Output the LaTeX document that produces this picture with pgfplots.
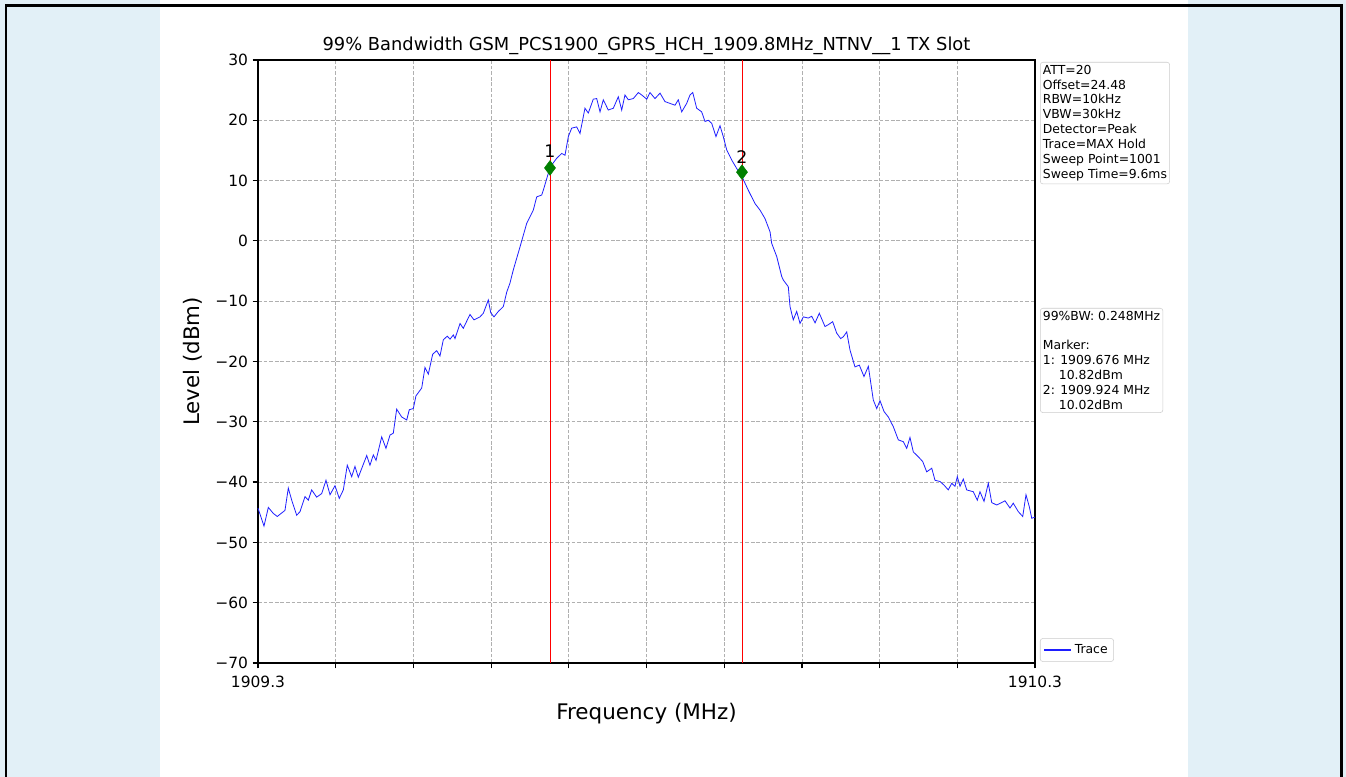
\documentclass[border=0pt]{standalone}
\usepackage{pgfplots}
\pgfplotsset{compat=1.18}
\usepackage{fontspec}
\setmainfont{DejaVu Sans}
\definecolor{bgblue}{RGB}{226,240,247}
\definecolor{boxgray}{RGB}{204,204,204}
\definecolor{mkgreen}{RGB}{0,128,0}
\definecolor{gridgray}{RGB}{176,176,176}
\definecolor{traceblue}{RGB}{30,30,255}
\begin{document}
\begin{tikzpicture}
\path[use as bounding box] (0,0) rectangle (1009.5pt,582.75pt);
\fill[white] (0,0) rectangle (1009.5pt,582.75pt);
\fill[bgblue] (0,0) rectangle (120pt,582.75pt);
\fill[bgblue] (891pt,0) rectangle (1009.5pt,582.75pt);
\draw[black, line width=1.6pt] (4.5pt,0) -- (4.5pt,578.6pt) -- (1006.1pt,578.6pt) -- (1006.1pt,0);
\begin{axis}[
  at={(193.5pt,85.5pt)}, anchor=south west,
  scale only axis, width=582.75pt, height=452.25pt,
  xmin=0, xmax=1, ymin=-70, ymax=30,
  xtick={0,0.1,0.2,0.3,0.4,0.5,0.6,0.7,0.8,0.9,1},
  xticklabels={1909.3,,,,,,,,,,1910.3},
  ytick={-70,-60,-50,-40,-30,-20,-10,0,10,20,30},
  yticklabels={−70,−60,−50,−40,−30,−20,−10,0,10,20,30},
  tick pos=left, tick align=outside,
  major tick length=4pt,
  tick style={black, line width=0.9pt},
  axis line style={black, line width=1pt},
  grid=major,
  major grid style={gridgray, line width=0.6pt, dash pattern=on 2.8pt off 1.4pt},
  ticklabel style={font=\fontsize{11.6}{13}\selectfont},
  xticklabel style={yshift=-2pt},
  title={99\% Bandwidth GSM\_PCS1900\_GPRS\_HCH\_1909.8MHz\_NTNV\_\_1 TX Slot},
  title style={at={(axis description cs:0.5,1.01)}, anchor=center, font=\fontsize{13.4}{16}\selectfont},
  xlabel={Frequency (MHz)},
  xlabel style={at={(axis description cs:0.5,-0.0846)}, anchor=center, font=\fontsize{16.1}{19}\selectfont},
  ylabel={Level (dBm)},
  ylabel style={at={(axis description cs:-0.0837,0.5)}, anchor=center, font=\fontsize{16}{19}\selectfont},
  legend style={at={(axis description cs:1.0064,0.002)}, anchor=south west, draw=boxgray, rounded corners=2pt, font=\fontsize{9.3}{11}\selectfont, inner sep=2.5pt},
  legend cell align=left,
  legend image code/.code={\draw[#1, line width=0.9pt] (0cm,0cm) -- (0.72cm,0cm);},
  clip=false,
]
\addplot[red, line width=0.7pt, forget plot] coordinates {(0.3758,-70) (0.3758,30)};
\addplot[red, line width=0.7pt, forget plot] coordinates {(0.6229,-70) (0.6229,30)};
\addplot[traceblue, line width=0.6pt] coordinates {
(0.0000,-44.3) (0.0077,-47.3) (0.0133,-44.2) (0.0197,-45.2) (0.0248,-45.7) (0.0347,-44.7) (0.0390,-41.0) (0.0434,-43.0) (0.0498,-45.5) (0.0541,-44.9) (0.0605,-42.4) (0.0647,-43.0) (0.0691,-41.3) (0.0755,-42.5) (0.0820,-41.9) (0.0875,-39.7) (0.0927,-42.1) (0.0991,-40.6) (0.1046,-42.7) (0.1098,-41.3) (0.1149,-37.2) (0.1206,-39.1) (0.1248,-37.4) (0.1291,-39.2) (0.1399,-35.6) (0.1441,-37.2) (0.1484,-35.5) (0.1519,-36.4) (0.1592,-32.5) (0.1647,-34.4) (0.1699,-32.2) (0.1741,-31.9) (0.1785,-27.9) (0.1849,-29.2) (0.1914,-29.7) (0.1947,-28.0) (0.1999,-27.8) (0.2033,-25.7) (0.2107,-24.4) (0.2149,-21.0) (0.2192,-22.1) (0.2248,-18.8) (0.2300,-18.2) (0.2342,-19.1) (0.2385,-16.4) (0.2436,-15.8) (0.2471,-16.3) (0.2514,-15.6) (0.2535,-16.2) (0.2600,-13.7) (0.2642,-14.5) (0.2728,-12.2) (0.2780,-13.1) (0.2857,-12.6) (0.2900,-12.0) (0.2964,-9.8) (0.2995,-11.9) (0.3037,-12.6) (0.3093,-11.7) (0.3157,-10.9) (0.3201,-8.5) (0.3243,-7.0) (0.3286,-4.8) (0.3372,-1.0) (0.3458,2.9) (0.3543,5.1) (0.3587,7.3) (0.3651,7.6) (0.3672,8.4) (0.3736,11.2) (0.3780,12.6) (0.3844,13.7) (0.3909,14.5) (0.3951,14.2) (0.3994,17.3) (0.4037,18.7) (0.4102,18.9) (0.4144,17.8) (0.4208,22.0) (0.4251,21.2) (0.4315,23.5) (0.4359,23.6) (0.4402,21.4) (0.4444,23.4) (0.4508,21.7) (0.4573,22.0) (0.4637,23.9) (0.4681,21.7) (0.4723,24.2) (0.4766,23.4) (0.4830,23.6) (0.4895,24.6) (0.4938,24.2) (0.5003,23.5) (0.5045,24.6) (0.5109,23.6) (0.5174,24.5) (0.5238,23.1) (0.5302,22.8) (0.5367,22.5) (0.5409,23.4) (0.5453,21.4) (0.5517,22.8) (0.5560,24.2) (0.5595,24.6) (0.5646,22.0) (0.5710,21.4) (0.5753,19.8) (0.5795,20.0) (0.5839,19.5) (0.5894,17.3) (0.5946,19.1) (0.5988,17.3) (0.6032,15.1) (0.6097,13.4) (0.6161,12.0) (0.6238,10.4) (0.6310,8.4) (0.6396,6.2) (0.6461,5.1) (0.6525,3.7) (0.6590,1.5) (0.6611,-0.4) (0.6676,-2.6) (0.6740,-5.9) (0.6761,-6.5) (0.6825,-7.6) (0.6847,-10.9) (0.6889,-13.1) (0.6933,-11.7) (0.6976,-13.7) (0.7018,-12.6) (0.7082,-12.8) (0.7126,-12.5) (0.7169,-13.6) (0.7224,-12.0) (0.7297,-14.2) (0.7340,-13.9) (0.7396,-13.4) (0.7448,-15.3) (0.7499,-16.2) (0.7533,-15.9) (0.7577,-15.1) (0.7619,-18.1) (0.7683,-20.9) (0.7739,-20.6) (0.7799,-22.5) (0.7855,-20.8) (0.7919,-26.4) (0.7963,-27.8) (0.8005,-26.5) (0.8057,-28.3) (0.8112,-29.2) (0.8176,-30.8) (0.8241,-33.0) (0.8305,-33.3) (0.8349,-34.4) (0.8391,-32.6) (0.8434,-35.0) (0.8498,-35.8) (0.8555,-36.6) (0.8606,-38.3) (0.8671,-37.7) (0.8713,-39.7) (0.8777,-39.9) (0.8829,-40.5) (0.8884,-41.3) (0.8928,-40.2) (0.8970,-40.7) (0.9000,-39.1) (0.9035,-40.7) (0.9077,-39.5) (0.9121,-41.3) (0.9206,-41.6) (0.9257,-43.0) (0.9292,-41.6) (0.9344,-43.2) (0.9399,-40.2) (0.9443,-43.4) (0.9507,-43.8) (0.9571,-43.4) (0.9614,-43.1) (0.9678,-44.3) (0.9720,-43.5) (0.9785,-44.9) (0.9842,-45.7) (0.9884,-42.1) (0.9927,-44.1) (0.9958,-46.0) (1.0000,-45.8)
};
\addlegendentry{Trace}
\addplot[only marks, mark=diamond*, mark size=5.5pt, mark options={fill=mkgreen, draw=mkgreen}, forget plot] coordinates {(0.3758,12.1) (0.6229,11.4)};
\node[font=\fontsize{13}{15}\selectfont] at (axis cs:0.3758,14.9) {1};
\node[font=\fontsize{13}{15}\selectfont] at (axis cs:0.6229,13.9) {2};
\end{axis}
\node[anchor=north west, draw=boxgray, fill=white, rounded corners=2pt, align=left, inner sep=2pt, font=\fontsize{9.3}{11.2}\selectfont] at (780pt,536.25pt)
 {ATT=20\\Offset=24.48\\RBW=10kHz\\VBW=30kHz\\Detector=Peak\\Trace=MAX Hold\\Sweep Point=1001\\Sweep Time=9.6ms};
\node[anchor=north west, draw=boxgray, fill=white, rounded corners=2pt, align=left, inner sep=2pt, font=\fontsize{9.3}{11.2}\selectfont] at (780pt,351.75pt)
 {99\%BW: 0.248MHz\\[11.2pt]Marker:\\1: 1909.676 MHz\\\phantom{1:\ }10.82dBm\\2: 1909.924 MHz\\\phantom{1:\ }10.02dBm};
\end{tikzpicture}
\end{document}
